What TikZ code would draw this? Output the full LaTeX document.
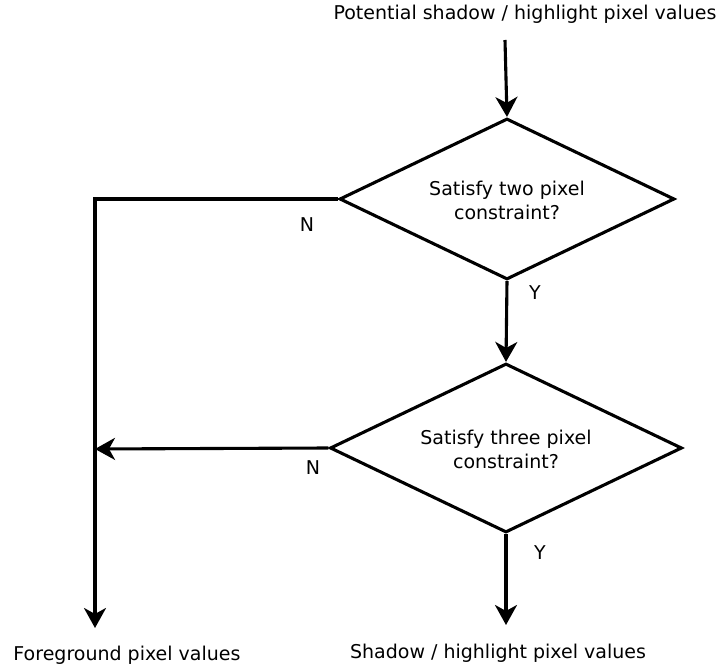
\documentclass[tikz,border=0pt]{standalone}
\usepackage{fontspec}
\setmainfont{DejaVu Sans}
\usetikzlibrary{shapes.geometric,arrows.meta}
\begin{document}
\begin{tikzpicture}[x=1pt,y=-1pt,
  line width=3.1pt,
  arr/.style={-{Stealth[length=20pt,width=22pt,inset=6pt]}},
  dec/.style={draw,diamond,minimum width=#1,inner sep=0pt},
  txt/.style={font=\fontsize{19}{24}\selectfont,align=center,inner sep=0pt},
  lbl/.style={font=\fontsize{19}{22}\selectfont,inner sep=0pt}]
\useasboundingbox (0,0) rectangle (721,671);
\node[dec=335pt,minimum height=161pt] (d1) at (507,199) {};
\node[txt] (t1) at (507,200) {Satisfy two pixel\\constraint?};
\node[dec=352pt,minimum height=169pt] (d2) at (506,448) {};
\node[txt] (t2) at (506,449) {Satisfy three pixel\\constraint?};
\node[lbl] (top) at (525,14) {Potential shadow / highlight pixel values};
\coordinate (s) at (505,40);
\node[lbl] (fg) at (127,655) {Foreground pixel values};
\node[lbl] (sh) at (498,653) {Shadow / highlight pixel values};
\coordinate (c1) at (95,199);
\coordinate (fe) at (95,628);
\coordinate (j) at (95,449);
\coordinate (se) at (506,625);
\draw[arr] (s) -- (d1.north);
\draw[arr] (d1.west) -- (c1) -- (fe);
\draw[arr] (d1.south) -- (d2.north);
\draw[arr] (d2.west) -- (j);
\draw[arr] (d2.south) -- (se);
\node[lbl] (n1) at (307,225) {N};
\node[lbl] (y1) at (535,293) {Y};
\node[lbl] (n2) at (313,468) {N};
\node[lbl] (y2) at (540,553) {Y};
\end{tikzpicture}
\end{document}
